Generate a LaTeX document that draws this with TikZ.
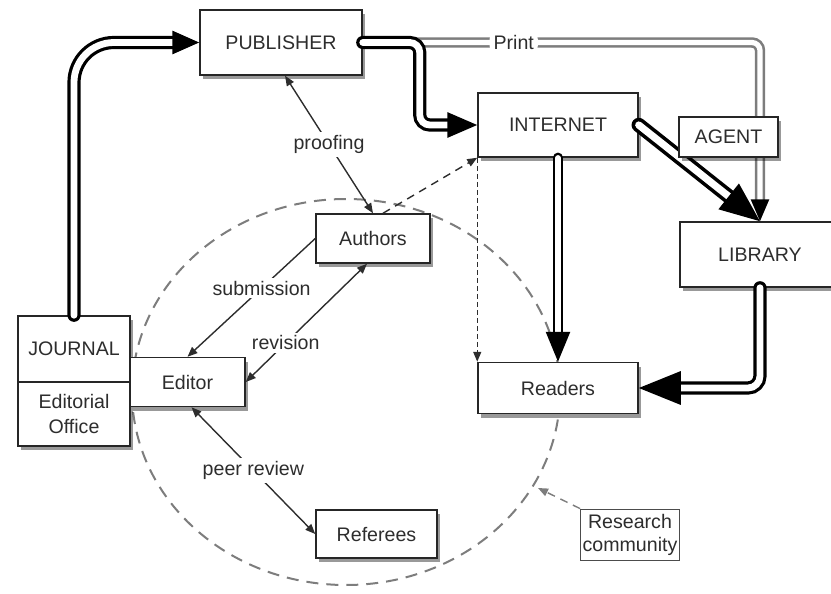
\documentclass[tikz,border=0pt]{standalone}
\usepackage{fontspec}
\setmainfont{Liberation Sans}
\usetikzlibrary{arrows.meta,shadows,calc}
\definecolor{inkgray}{RGB}{45,45,45}
\definecolor{rimgray}{RGB}{125,125,125}

\tikzset{
  box/.style={draw=black!85, fill=white, line width=0.75pt, text=inkgray, align=center, inner sep=2pt,
    drop shadow={shadow xshift=1.5pt, shadow yshift=-2pt, fill=black, opacity=0.4}},
  flow/.style={draw=black, double=white, line width=1.6pt, double distance=3.4pt, line cap=round},
  print/.style={draw=rimgray, double=white, line width=1.3pt, double distance=2.6pt, line cap=round},
  link/.style={draw=inkgray, line width=0.7pt},
  tag/.style={fill=white, inner sep=1.5pt, text=inkgray},
  tip/.style={-{Triangle[length=5pt,width=4pt]}},
  bothtip/.style={{Triangle[length=5pt,width=4pt]}-{Triangle[length=5pt,width=4pt]}}
}

\begin{document}
\begin{tikzpicture}[x=0.5pt, y=-0.5pt, font=\fontsize{9.8}{12.5}\selectfont]
  \useasboundingbox (0,0) rectangle (831,594);
  % research community
  \draw[rimgray, line width=1pt, dash pattern=on 6pt off 4pt] (346,392) ellipse [x radius=107pt, y radius=96.5pt];
  \coordinate (rimpoint) at (538,488);

  % boxes
  \node[box, minimum width=81pt, minimum height=32.5pt] (publisher) at (281,42.5) {PUBLISHER};
  \node[box, minimum width=80pt, minimum height=32pt] (internet) at (558,125) {INTERNET};
  \node[box, minimum width=80pt, minimum height=32.5pt] (library) at (760,254.5) {LIBRARY};
  \node[box, minimum width=80pt, minimum height=25.5pt] (readers) at (558,388) {Readers};
  \node[box, minimum width=57pt, minimum height=24.5pt] (authors) at (373,238.5) {Authors};
  \node[box, minimum width=56pt, minimum height=33pt] (journal) at (74,349) {JOURNAL};
  \node[box, minimum width=56pt, minimum height=32pt] (office) at (74,414) {Editorial\\Office};
  \node[box, minimum width=57.5pt, minimum height=24.5pt] (editor) at (187.5,382) {Editor};
  \node[box, minimum width=60.5pt, minimum height=24pt] (referees) at (376.5,534) {Referees};
  \node[draw=black!70, line width=0.4pt, fill=white, text=inkgray, align=center, inner sep=1pt,
    minimum width=49.5pt, minimum height=25.5pt, font=\fontsize{9.8}{11.5}\selectfont] (research) at (630,534.5) {Research\\community};

  % print and online flows
  \draw[flow, -{Triangle[length=13.5pt,width=11.5pt]}, rounded corners=20pt] (journal.north) |- (publisher.west);
  \draw[print, -{Triangle[length=11pt,width=9pt,black]}, rounded corners=4pt] (publisher.east) -| node[pos=0.19, tag, inner sep=2pt] {Print} (library.north);
  \draw[flow, -{Triangle[length=15pt,width=12.5pt]}, rounded corners=5pt] (publisher.east) -- ++(57,0) |- (internet.west);
  \draw[flow, line width=1.8pt, double distance=3.6pt, -{Triangle[length=20pt,width=16pt]}] (internet.east) -- (library.north);
  \draw[flow, line width=1.3pt, double distance=2.6pt, -{Triangle[length=15pt,width=12pt]}] (internet.south) -- (readers.north);
  \draw[flow, -{Triangle[length=21pt,width=16.5pt]}, rounded corners=6pt] (library.south) |- (readers.east);

  % editorial loop
  \draw[link, bothtip] ($(publisher.south)+(4,0)$) -- node[tag] {proofing} (authors.north);
  \draw[link, tip] (authors.west) -- node[tag, pos=0.42] {submission} (editor.north);
  \draw[link, bothtip] (editor.east) -- node[tag, pos=0.33] {revision} ($(authors.south)+(-6,0)$);
  \draw[link, bothtip] ($(editor.south)+(4,0)$) -- node[tag] {peer review} (referees.west);
  \draw[link, tip, dash pattern=on 4pt off 3pt] ($(authors.north)+(10,0)$) -- (internet.south west);
  \draw[link, tip, dash pattern=on 2.5pt off 1.5pt] (internet.south west) -- (readers.north west);
  \draw[link, tip, draw=rimgray, dash pattern=on 4pt off 3pt] (research.north west) -- (rimpoint);

  \node[box, minimum width=49.5pt, minimum height=20pt] (agent) at (728.5,137) {AGENT};
\end{tikzpicture}
\end{document}
